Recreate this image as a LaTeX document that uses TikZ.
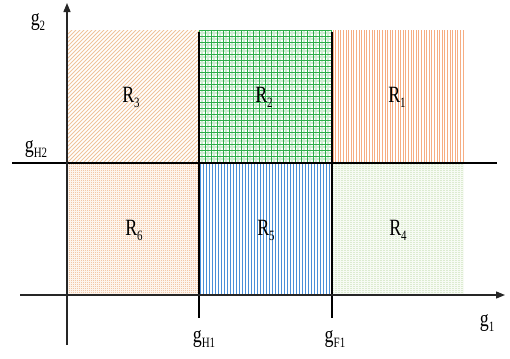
\documentclass[tikz,border=0pt]{standalone}
\usepackage{fontspec}
\setmainfont{Liberation Serif}
\usetikzlibrary{arrows.meta}
\definecolor{orhatch}{HTML}{EFC39B}
\definecolor{orline}{HTML}{F6AD82}
\definecolor{ordot}{HTML}{F2C6A6}
\definecolor{orfill}{HTML}{FDF4EC}
\definecolor{grndark}{HTML}{2DAE4A}
\definecolor{grnlight}{HTML}{CDEBD2}
\definecolor{bluline}{HTML}{4A8FD8}
\definecolor{grnpale}{HTML}{DCEBD0}
\definecolor{grnfill}{HTML}{F7FBF4}
\newcommand\mylbl[1]{\scalebox{1}[1.3]{#1}}
\newcommand\mysub[1]{\raisebox{-0.22em}{\fontsize{11}{11}\selectfont #1}}
\tikzset{
  axisline/.style={line width=1.3bp, draw=black!85, -{Triangle[length=9bp,width=7bp]}},
  divline/.style={line width=1.1bp, draw=black},
  lbl/.style={inner sep=0pt, font=\fontsize{18}{18}\selectfont}
}
\begin{document}
\begin{tikzpicture}[x=1bp,y=-1bp]
\useasboundingbox (0,0) rectangle (510,358);
% R3 diagonal hatch
\begin{scope}
\clip (67,30) rectangle (199,163);
\foreach \i in {-136,-132,...,136} \draw[orhatch,line width=0.9bp] (67+\i,163) -- ++(134,-134);
\end{scope}
% R2 green grid
\begin{scope}
\clip (199,30) rectangle (332,163);
\foreach \x in {202,208,...,332} \draw[grnlight,line width=1.2bp] (\x,30) -- (\x,163);
\foreach \y in {33,39,...,163} \draw[grnlight,line width=1.2bp] (199,\y) -- (332,\y);
\foreach \x in {199,205,...,332} \draw[grndark,line width=0.7bp] (\x,30) -- (\x,163);
\foreach \y in {30,36,...,163} \draw[grndark,line width=0.7bp] (199,\y) -- (332,\y);
\end{scope}
% R1 orange vertical
\begin{scope}
\clip (332,30) rectangle (464,163);
\foreach \x in {333,335.6,...,464} \draw[orline,line width=0.9bp] (\x,30) -- (\x,163);
\end{scope}
% R6 orange dots
\begin{scope}
\clip (67,163) rectangle (199,295);
\fill[orfill] (67,163) rectangle (199,295);
\foreach \y in {164,166,...,295} \draw[ordot,line width=0.9bp,dash pattern=on 1bp off 1bp] (67,\y) -- (199,\y);
\end{scope}
% R5 blue vertical
\begin{scope}
\clip (199,163) rectangle (332,295);
\foreach \x in {200.5,203.5,...,332} \draw[bluline,line width=0.9bp] (\x,163) -- (\x,295);
\end{scope}
% R4 pale green dashes
\begin{scope}
\clip (332,163) rectangle (464,295);
\fill[grnfill] (332,163) rectangle (464,295);
\foreach \y in {164,166,...,295} \draw[grnpale,line width=0.9bp,dash pattern=on 2bp off 1bp] (332,\y) -- (464,\y);
\end{scope}
% coordinates
\coordinate (yb) at (67,345);
\coordinate (yt) at (67,3);
\coordinate (xl) at (20,295);
\coordinate (xr) at (505,295);
\coordinate (hl) at (12,163);
\coordinate (hr) at (497,163);
\coordinate (v1t) at (199,32);
\coordinate (v1b) at (199,318);
\coordinate (v2t) at (332,32);
\coordinate (v2b) at (332,318);
% lines
\draw[divline] (hl) -- (hr);
\draw[divline] (v1t) -- (v1b);
\draw[divline] (v2t) -- (v2b);
\draw[axisline] (yb) -- (yt);
\draw[axisline] (xl) -- (xr);
% labels
\node[lbl] (r3) at (131,97) {\mylbl{R\mysub{3}}};
\node[lbl] (r2) at (264,97) {\mylbl{R\mysub{2}}};
\node[lbl] (r1) at (397,97) {\mylbl{R\mysub{1}}};
\node[lbl] (r6) at (134,230) {\mylbl{R\mysub{6}}};
\node[lbl] (r5) at (266,230) {\mylbl{R\mysub{5}}};
\node[lbl] (r4) at (398,230) {\mylbl{R\mysub{4}}};
\node[lbl] (g2) at (38,22) {\mylbl{g\mysub{2}}};
\node[lbl] (gh2) at (36,149) {\mylbl{g\mysub{H2}}};
\node[lbl] (gh1) at (204,339) {\mylbl{g\mysub{H1}}};
\node[lbl] (gf1) at (335,339) {\mylbl{g\mysub{F1}}};
\node[lbl] (g1) at (487,323) {\mylbl{g\mysub{1}}};
\end{tikzpicture}
\end{document}
